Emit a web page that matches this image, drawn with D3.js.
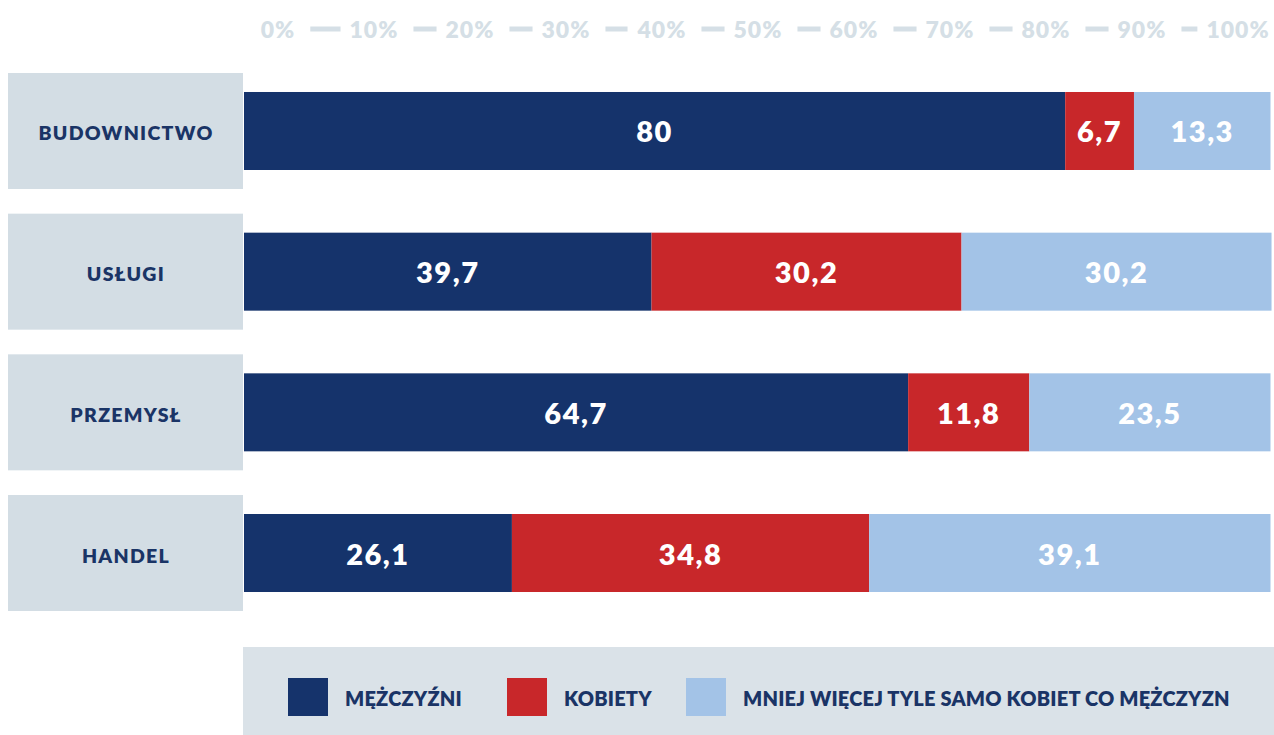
<!DOCTYPE html>
<html lang="pl">
<head>
<meta charset="utf-8">
<script src="https://cdn.jsdelivr.net/npm/d3@7"></script>
<style>
  html, body { margin: 0; padding: 0; background: #ffffff; }
  svg { display: block; font-family: Lato, "Open Sans", sans-serif; }
</style>
</head>
<body>
<svg id="chart" width="1274" height="735"></svg>
<script>
// Sektory gospodarki
const categories = ["BUDOWNICTWO", "USŁUGI", "PRZEMYSŁ", "HANDEL"];
// Udział odpowiedzi (%) w każdym sektorze
const menValues   = [80, 39.7, 64.7, 26.1];
const womenValues = [6.7, 30.2, 11.8, 34.8];
const equalValues = [13.3, 30.2, 23.5, 39.1];
// Etykiety osi procentowej
const tickLabels = ["0%", "10%", "20%", "30%", "40%", "50%", "60%", "70%", "80%", "90%", "100%"];
// Legenda
const seriesNames = ["MĘŻCZYŹNI", "KOBIETY", "MNIEJ WIĘCEJ TYLE SAMO KOBIET CO MĘŻCZYZN"];

const colors = ["#15336b", "#c8272a", "#a3c3e7"];
const navy = "#1a3466";
const boxGray = "#d3dde4";
const axisGray = "#d5dfe6";

const svg = d3.select("#chart");

const series = [menValues, womenValues, equalValues];
const rows = categories.map((c, i) => ({ cat: c, vals: series.map(s => s[i]) }));

// Skala wartości (0–100%) dla pasków
const x = d3.scaleLinear().domain([0, 100]).range([244, 1270.5]);
// Skala wierszy
const yRow = d3.scaleBand().domain(categories).range([73, 611]).paddingInner(0.1754).paddingOuter(0);
// Skala rozmieszczenia etykiet osi
const xTick = d3.scaleBand().domain(tickLabels).range([230, 1286]);

// Górna oś z kreskami pomiędzy etykietami
const axisG = svg.append("g");
const tickText = axisG.selectAll("text.tick")
  .data(tickLabels)
  .join("text")
  .attr("class", "tick")
  .attr("x", d => xTick(d) + xTick.bandwidth() / 2)
  .attr("y", 29)
  .attr("text-anchor", "middle")
  .attr("dominant-baseline", "central")
  .attr("font-size", 23)
  .attr("font-weight", 800)
  .attr("letter-spacing", 1)
  .attr("fill", axisGray)
  .text(d => d);

// Kreska wypełnia odstęp między sąsiednimi etykietami
const extents = tickText.nodes().map(n => {
  const b = n.getBBox();
  return [b.x, b.x + b.width];
});
axisG.selectAll("rect.dash")
  .data(d3.range(1, tickLabels.length))
  .join("rect")
  .attr("class", "dash")
  .attr("x", i => extents[i - 1][1] + 15)
  .attr("y", 26.5)
  .attr("width", i => Math.max(8, extents[i][0] - extents[i - 1][1] - 24))
  .attr("height", 5)
  .attr("fill", axisGray);

// Wiersze: pole kategorii + skumulowany pasek
const rowG = svg.selectAll("g.row")
  .data(rows)
  .join("g")
  .attr("class", "row");

rowG.append("rect")
  .attr("x", 8)
  .attr("y", d => yRow(d.cat))
  .attr("width", 235)
  .attr("height", yRow.bandwidth())
  .attr("fill", boxGray);

rowG.append("text")
  .attr("x", 126)
  .attr("y", d => yRow(d.cat) + yRow.bandwidth() / 2 + 2)
  .attr("text-anchor", "middle")
  .attr("dominant-baseline", "central")
  .attr("font-size", 19.5)
  .attr("font-weight", 800)
  .attr("letter-spacing", 1.3)
  .attr("fill", navy)
  .text(d => d.cat);

const barH = 78;
rowG.each(function(d) {
  const g = d3.select(this);
  const y0 = yRow(d.cat) + (yRow.bandwidth() - barH) / 2;
  let acc = 0;
  const segs = d.vals.map((v, k) => {
    const s = { start: acc, value: v, k };
    acc += v;
    return s;
  });
  g.selectAll("rect.seg")
    .data(segs)
    .join("rect")
    .attr("class", "seg")
    .attr("x", s => x(s.start))
    .attr("y", y0)
    .attr("width", s => x(s.start + s.value) - x(s.start))
    .attr("height", barH)
    .attr("fill", s => colors[s.k]);
  g.selectAll("text.val")
    .data(segs)
    .join("text")
    .attr("class", "val")
    .attr("x", s => (x(s.start) + x(s.start + s.value)) / 2)
    .attr("y", y0 + barH / 2)
    .attr("text-anchor", "middle")
    .attr("dominant-baseline", "central")
    .attr("font-size", 29)
    .attr("font-weight", 800)
    .attr("letter-spacing", 1.5)
    .attr("fill", "#ffffff")
    .text(s => String(s.value).replace(".", ","));
});

// Legenda
const legend = svg.append("g");
legend.append("rect")
  .attr("x", 243).attr("y", 647)
  .attr("width", 1031).attr("height", 88)
  .attr("fill", "#dae2e8");

const legendX = [288, 507, 686];
const items = legend.selectAll("g.item")
  .data(seriesNames)
  .join("g")
  .attr("class", "item")
  .attr("transform", (d, i) => `translate(${legendX[i]},678)`);
items.append("rect")
  .attr("width", 40).attr("height", 38)
  .attr("fill", (d, i) => colors[i]);
items.append("text")
  .attr("x", 57)
  .attr("y", 20)
  .attr("dominant-baseline", "central")
  .attr("font-size", 20)
  .attr("font-weight", 800)
  .attr("letter-spacing", 0.2)
  .attr("fill", navy)
  .text(d => d);
</script>
</body>
</html>
